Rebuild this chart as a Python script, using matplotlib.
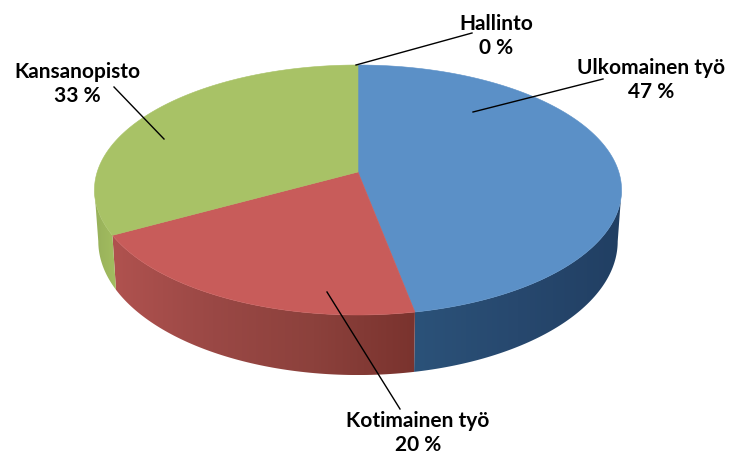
import numpy as np
import matplotlib
matplotlib.use('Agg')
import matplotlib.pyplot as plt
from matplotlib.colors import LinearSegmentedColormap
from matplotlib.patches import Polygon

# order: clockwise from the top of the pie
labels = ['Hallinto', 'Ulkomainen työ', 'Kotimainen työ', 'Kansanopisto']
values = [0, 47, 20, 33]

top_colors = ['#5b90c7', '#5b90c7', '#c85c5a', '#a8c266']
side_colors = [
    ['#2a5078', '#2a5078'],
    ['#2b5279', '#27486e', '#213f63'],
    ['#b0524f', '#9a4845', '#8c413c', '#7a332e'],
    ['#97b05a', '#a3bd60'],
]

label_pos = [(496, 35.5), (651, 80), (77, 83.5), (418, 433)]
leader_lines = [
    ((356, 65), (472, 33)),
    ((473, 112), (603, 79)),
    ((164, 139), (114, 87)),
    ((327, 292), (400, 409)),
]
label_order = ['Hallinto', 'Ulkomainen työ', 'Kansanopisto', 'Kotimainen työ']

# perspective projection of the top and bottom discs, in pixels
cx = 358
top_disc = dict(cy=172, a=122.4, b=260.8)
bottom_disc = dict(cy=222, a=131, b=257)
k = 0.144
silhouette = (98.3, 261.7)


def project(theta, disc):
    t = np.radians(theta)
    d = 1 + k * np.cos(t)
    return cx + disc['b'] * np.sin(t) / d, disc['cy'] - disc['a'] * np.cos(t) / d


fig = plt.figure(figsize=(7.29, 4.55), dpi=100)
ax = fig.add_axes([0, 0, 1, 1])
ax.set_xlim(0, 729)
ax.set_ylim(455, 0)
ax.axis('off')

edges = np.concatenate([[0], np.cumsum(values)]) * 3.6

# sides first, the top faces go over them
for i in range(len(values)):
    start = max(edges[i], silhouette[0])
    stop = min(edges[i + 1], silhouette[1])
    if stop <= start:
        continue
    th = np.linspace(start, stop, 80)
    xt, yt = project(th, top_disc)
    xb, yb = project(th, bottom_disc)
    pts = np.column_stack([np.r_[xt, xb[::-1]], np.r_[yt, yb[::-1]]])
    x0, x1, y0, y1 = pts[:, 0].min(), pts[:, 0].max(), pts[:, 1].min(), pts[:, 1].max()
    cmap = LinearSegmentedColormap.from_list('side', side_colors[i])
    # gradient runs from the left end of the slice side to the right
    im = ax.imshow(np.linspace(0, 1, 256).reshape(1, -1), cmap=cmap, aspect='auto',
                   extent=(x0, x1, y1, y0), zorder=1)
    clip = Polygon(pts, closed=True, transform=ax.transData)
    im.set_clip_path(clip)

ax.set_xlim(0, 729)
ax.set_ylim(455, 0)

for i in range(len(values)):
    if values[i] == 0:
        continue
    th = np.linspace(edges[i], edges[i + 1], 200)
    xt, yt = project(th, top_disc)
    pts = np.column_stack([np.r_[cx, xt], np.r_[top_disc['cy'], yt]])
    ax.add_patch(Polygon(pts, closed=True, facecolor=top_colors[i], edgecolor=top_colors[i],
                         linewidth=0.4, zorder=2))

for (p0, p1) in leader_lines:
    ax.plot([p0[0], p1[0]], [p0[1], p1[1]], color='black', lw=1.0, zorder=3)

for name, pos in zip(label_order, label_pos):
    v = values[labels.index(name)]
    ax.text(pos[0], pos[1], f'{name}\n{v} %', ha='center', va='center', fontsize=15,
            fontweight='bold', family='Lato', color='black', linespacing=1.25, zorder=4)

plt.savefig('out.png', dpi=100)
